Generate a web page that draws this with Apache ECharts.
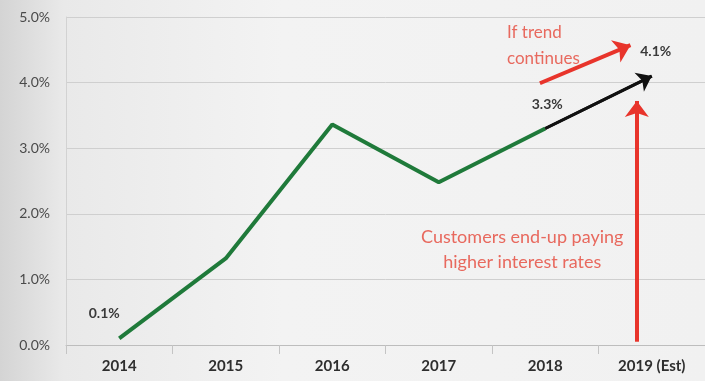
<!DOCTYPE html>
<html>
<head>
<meta charset="utf-8">
<script src="https://cdn.jsdelivr.net/npm/echarts@6/dist/echarts.min.js"></script>
<style>
  html, body { margin: 0; padding: 0; }
  #chart { width: 705px; height: 381px; }
</style>
</head>
<body>
<div id="chart"></div>
<script>
// Interest rate by year, with a projected 2019 value
const years = ['2014', '2015', '2016', '2017', '2018', '2019 (Est)'];
const actualRates = [0.1, 1.32, 3.36, 2.48, 3.3, null];
const projectedRates = [null, null, null, null, 3.3, 4.1];
const yTicks = [0, 1, 2, 3, 4, 5];

// Annotation arrows, in (category position, rate %) units
const trendArrow = [[3.95, 3.99], [4.80, 4.57]];
const payArrow = [[4.86, 0.05], [4.86, 3.72]];

const chart = echarts.init(document.getElementById('chart'));
const FONT = 'Lato';
const RED = '#e8342b';
const NOTE_RED = '#e8695e';

// value labels: which point of which series, and where the text sits
const labelOffsets = {
  actual: { 0: [-15, -12], 4: [2, -11] },
  projected: { 5: [4, -12] }
};

function withLabels(values, offsets) {
  return values.map((v, i) => {
    if (v == null) return null;
    const item = { value: v };
    if (offsets[i]) {
      item.label = {
        show: true,
        position: 'top',
        offset: offsets[i],
        formatter: v.toFixed(1) + '%',
        color: '#3a3a3a',
        fontFamily: FONT,
        fontWeight: 'bold',
        fontSize: 14
      };
    }
    return item;
  });
}

const option = {
  backgroundColor: {
    type: 'linear', x: 0, y: 0, x2: 1, y2: 0,
    colorStops: [
      { offset: 0, color: '#d4d4d4' },
      { offset: 0.09, color: '#e9e9e9' },
      { offset: 0.4, color: '#f3f3f3' },
      { offset: 1, color: '#f1f1f1' }
    ]
  },
  animation: false,
  grid: { left: 66, right: 0, top: 17, bottom: 36 },
  xAxis: [
    {
      type: 'category',
      data: years,
      boundaryGap: true,
      axisLine: { lineStyle: { color: '#bdbdbd', width: 1 } },
      axisTick: { show: true, length: 9, lineStyle: { color: '#c4c4c4' } },
      axisLabel: {
        color: '#2e2e2e', fontFamily: FONT, fontWeight: 'bold',
        fontSize: 15, margin: 14
      }
    },
    {
      type: 'value', min: -0.5, max: 5.5, show: false
    }
  ],
  yAxis: {
    type: 'value',
    min: yTicks[0], max: yTicks[yTicks.length - 1], interval: 1,
    axisLine: { show: true, onZero: false, lineStyle: { color: '#d2d2d2' } },
    axisTick: { show: false },
    splitLine: { lineStyle: { color: '#cfcfcf', width: 1 } },
    axisLabel: {
      color: '#4a4a4a', fontFamily: FONT, fontSize: 14, margin: 16,
      formatter: v => v.toFixed(1) + '%'
    }
  },
  series: [
    {
      type: 'line',
      data: withLabels(actualRates, labelOffsets.actual),
      symbol: 'circle',
      symbolSize: 2,
      showSymbol: true,
      itemStyle: { color: 'rgba(0,0,0,0)', borderWidth: 0 },
      lineStyle: { color: '#1f7a3a', width: 4 },
      z: 3
    },
    {
      type: 'line',
      data: withLabels(projectedRates, labelOffsets.projected),
      symbol: 'circle',
      symbolSize: 2,
      showSymbol: true,
      itemStyle: { color: 'rgba(0,0,0,0)', borderWidth: 0 },
      lineStyle: { color: '#111111', width: 3 },
      z: 4,
      markLine: {
        silent: true,
        symbol: ['none', 'arrow'],
        symbolSize: [16, 14],
        label: { show: false },
        lineStyle: { color: '#111111', width: 3, type: 'solid' },
        data: [[
          { coord: [4, projectedRates[4]] },
          { coord: [5, projectedRates[5]] }
        ]]
      }
    },
    {
      type: 'scatter',
      xAxisIndex: 1,
      data: [],
      markLine: {
        silent: true,
        symbol: ['none', 'arrow'],
        symbolSize: [18, 16],
        label: { show: false },
        lineStyle: { color: RED, width: 4, type: 'solid' },
        data: [
          [{ coord: trendArrow[0] }, { coord: trendArrow[1] }],
          [{ coord: payArrow[0] }, { coord: payArrow[1] }]
        ]
      },
      z: 5
    }
  ],
  graphic: [
    {
      type: 'text', left: 507, top: 20, silent: true,
      style: {
        text: 'If trend\ncontinues', fill: NOTE_RED, font: '17px Lato',
        lineHeight: 26
      }
    },
    {
      type: 'text', left: 421, top: 225, silent: true,
      style: {
        text: 'Customers end-up paying\nhigher interest rates',
        fill: NOTE_RED, font: '18px Lato', textAlign: 'center', align: 'center',
        lineHeight: 25
      }
    }
  ]
};

chart.setOption(option);
</script>
</body>
</html>
